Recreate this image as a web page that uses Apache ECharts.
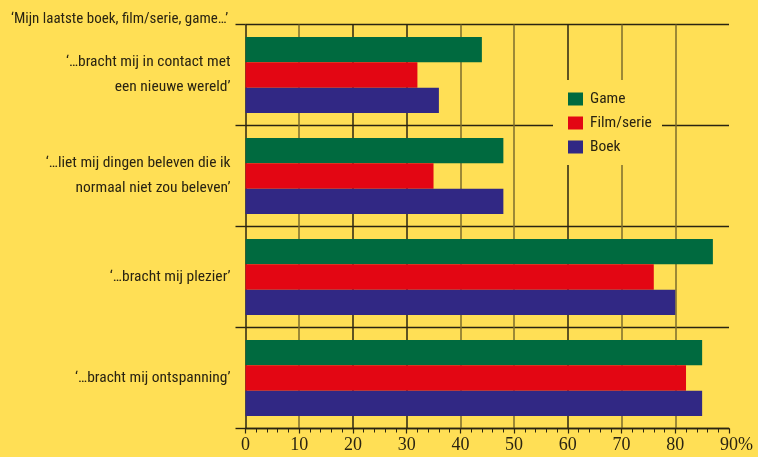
<!DOCTYPE html>
<html>
<head>
<meta charset="utf-8">
<script src="https://cdn.jsdelivr.net/npm/echarts@6/dist/echarts.min.js"></script>
<style>
  html, body { margin: 0; padding: 0; background: #FFDF55; }
  #chart { width: 758px; height: 457px; }
</style>
</head>
<body>
<div id="chart"></div>
<script>
// Survey statements (top to bottom)
const categories = [
  '‘…bracht mij in contact met\neen nieuwe wereld’',
  '‘…liet mij dingen beleven die ik\nnormaal niet zou beleven’',
  '‘…bracht mij plezier’',
  '‘…bracht mij ontspanning’'
];
// Percentages per medium
const gameValues = [44, 48, 87, 85];
const filmValues = [32, 35, 76, 82];
const boekValues = [36, 48, 80, 85];
const seriesNames = ['Game', 'Film/serie', 'Boek'];
const titleText = '‘Mijn laatste boek, film/serie, game…’';

const BG = '#FFDF55';
const INK = '#2a2412';
const OLIVE = '#7d6c2c';
const condensed = "'Roboto Condensed', 'DejaVu Sans Condensed', sans-serif";
const serif = "'Liberation Serif', 'DejaVu Serif', serif";

const chart = echarts.init(document.getElementById('chart'), null, { renderer: 'canvas' });

const barCommon = { type: 'bar', barWidth: 25.3, barGap: '0%', z: 2 };

chart.setOption({
  backgroundColor: BG,
  animation: false,
  title: {
    text: titleText,
    left: 6, top: 7,
    textStyle: { fontFamily: condensed, fontSize: 15, fontWeight: 'normal', color: INK }
  },
  legend: {
    data: seriesNames,
    orient: 'vertical',
    left: 568, top: 91,
    padding: 0,
    icon: 'rect',
    itemWidth: 15, itemHeight: 13, itemGap: 8,
    z: 10,
    textStyle: { fontFamily: condensed, fontSize: 15.5, color: INK, padding: [0, 0, 0, 2] }
  },
  graphic: [{
    // clears the grid behind the legend
    type: 'rect', z: 3,
    shape: { x: 553, y: 80, width: 109, height: 85 },
    style: { fill: BG }
  }],
  grid: { left: 245.5, right: 29, top: 24.5, bottom: 28.5, containLabel: false },
  xAxis: {
    type: 'value', min: 0, max: 90, interval: 10,
    axisLine: { show: true, lineStyle: { color: INK, width: 1.4 } },
    axisTick: { show: true, length: 5, lineStyle: { color: INK, width: 1.2 } },
    minorTick: { show: true, splitNumber: 5, length: 4, lineStyle: { color: INK, width: 1 } },
    splitLine: {
      show: true, showMaxLine: false,
      lineStyle: { color: [INK, OLIVE, INK, INK, OLIVE, OLIVE, INK, OLIVE, OLIVE, INK], width: 1.5 }
    },
    axisLabel: {
      margin: 8,
      fontFamily: serif,
      fontSize: 18, color: INK,
      formatter: v => v === 90 ? '{pct|90%}' : String(v),
      rich: { pct: { fontFamily: serif, fontSize: 18, color: INK, padding: [0, 0, 0, 15] } }
    }
  },
  yAxis: {
    type: 'category', data: categories, inverse: true,
    axisLine: { show: false },
    axisTick: { show: true, length: 10, interval: 0, lineStyle: { color: INK, width: 1.4 } },
    splitLine: { show: true, interval: 0, lineStyle: { color: INK, width: 1.4 } },
    axisLabel: {
      margin: 15, align: 'right',
      fontFamily: condensed, fontSize: 15.5, lineHeight: 25, color: INK
    }
  },
  series: [
    Object.assign({ name: 'Game', data: gameValues, itemStyle: { color: '#006A3F' } }, barCommon),
    Object.assign({ name: 'Film/serie', data: filmValues, itemStyle: { color: '#E30613' } }, barCommon),
    Object.assign({ name: 'Boek', data: boekValues, itemStyle: { color: '#312884' } }, barCommon)
  ]
});
</script>
</body>
</html>
